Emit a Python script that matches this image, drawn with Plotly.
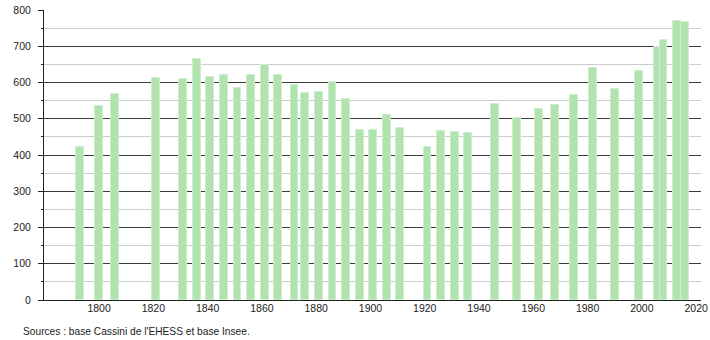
import plotly.graph_objects as go

years = [1793, 1800, 1806, 1821, 1831, 1836, 1841, 1846, 1851, 1856, 1861, 1866,
         1872, 1876, 1881, 1886, 1891, 1896, 1901, 1906, 1911, 1921, 1926, 1931,
         1936, 1946, 1954, 1962, 1968, 1975, 1982, 1990, 1999, 2006, 2008, 2013, 2016]
population = [423, 536, 567, 612, 610, 664, 615, 621, 586, 620, 648, 621,
              593, 571, 575, 601, 555, 469, 469, 510, 475, 421, 466, 464,
              460, 541, 503, 527, 538, 566, 639, 582, 632, 697, 717, 770, 766]
x_ticks = [1800, 1820, 1840, 1860, 1880, 1900, 1920, 1940, 1960, 1980, 2000, 2020]
y_ticks = [0, 100, 200, 300, 400, 500, 600, 700, 800]
source_text = "Sources : base Cassini de l'EHESS et base Insee."

FONT = "Liberation Sans, Arial, sans-serif"

fig = go.Figure()
fig.add_trace(go.Bar(
    x=years,
    y=population,
    width=[2.9] * len(years),
    marker=dict(color="#b1e3b1", line=dict(color="#cdeecd", width=1)),
    hoverinfo="x+y",
))

fig.update_layout(
    width=710,
    height=340,
    margin=dict(l=44, r=9, t=10, b=40, autoexpand=False),
    paper_bgcolor="white",
    plot_bgcolor="white",
    showlegend=False,
    font=dict(family=FONT, size=10.5, color="#222"),
    bargap=0,
)

fig.update_xaxes(
    range=[1779.7, 2021.8],
    tickvals=x_ticks,
    ticktext=[str(v) for v in x_ticks],
    showgrid=False,
    zeroline=False,
    showline=True,
    linecolor="#222",
    linewidth=1,
    ticks="",
    automargin=False,
    ticklabelstandoff=-2,
    tickfont=dict(family=FONT, size=10.5, color="#222"),
)

fig.update_yaxes(
    range=[0, 800],
    tickvals=y_ticks,
    ticktext=[str(v) for v in y_ticks],
    showgrid=True,
    gridcolor="#3a3a3a",
    gridwidth=1,
    zeroline=False,
    showline=True,
    linecolor="#222",
    linewidth=1,
    ticks="outside",
    ticklen=5,
    tickcolor="#222",
    automargin=False,
    ticklabelstandoff=5,
    tickfont=dict(family=FONT, size=10.5, color="#222"),
    minor=dict(dtick=50, tick0=0, showgrid=True, gridcolor="#cccccc", gridwidth=1,
               ticks="outside", ticklen=2, tickcolor="#222"),
)

fig.add_annotation(
    text=source_text,
    xref="paper", yref="paper",
    x=-0.0355, y=-0.108,
    xanchor="left", yanchor="middle",
    showarrow=False,
    font=dict(family=FONT, size=10.2, color="#222"),
)

fig.write_html("out.html")
